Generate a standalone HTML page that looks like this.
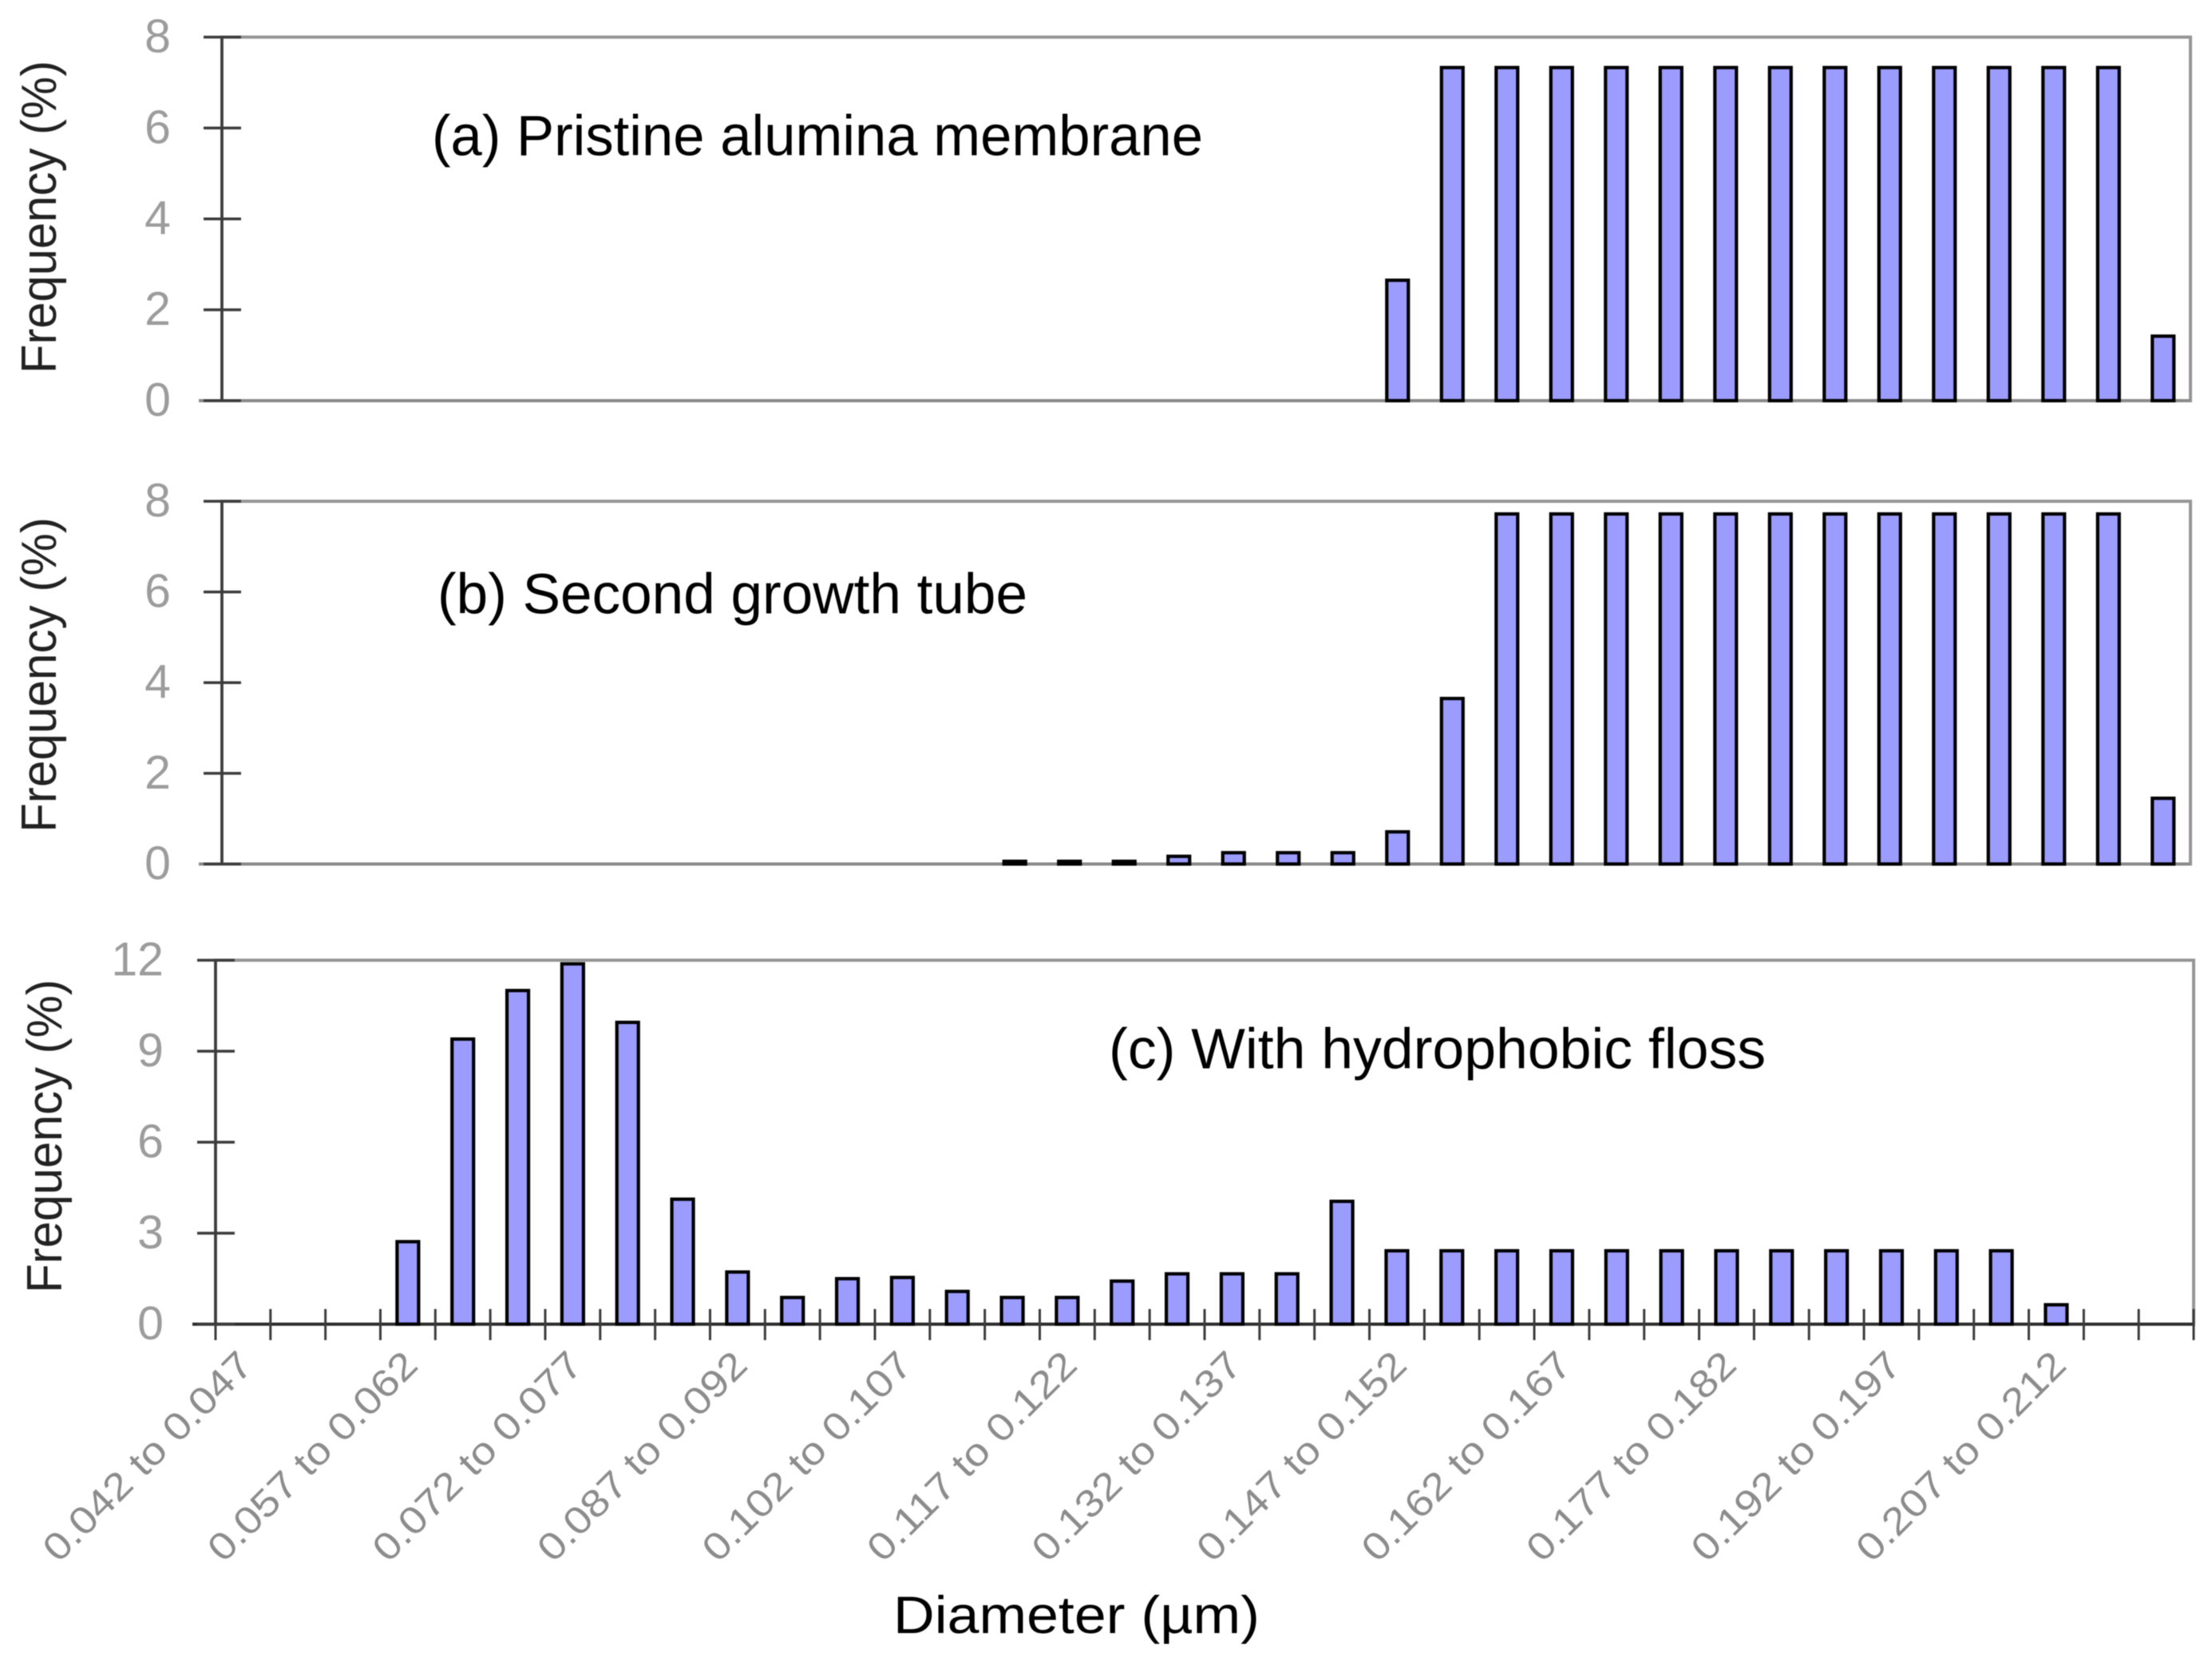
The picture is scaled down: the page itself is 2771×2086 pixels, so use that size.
<!DOCTYPE html>
<html lang="en">
<head>
<meta charset="utf-8">
<title>Pore diameter frequency distributions</title>
<style>
html,body{margin:0;padding:0;background:#fff;}
svg{display:block;font-family:"Liberation Sans",sans-serif;filter:blur(0.6px);}
</style>
</head>
<body>
<svg id="chart" xmlns="http://www.w3.org/2000/svg" width="2771" height="2086" viewBox="0 0 2771 2086">
  <rect x="0" y="0" width="2771" height="2086" fill="#ffffff"/>
  <text x="541" y="194.5" font-size="71" fill="#000" textLength="966" lengthAdjust="spacingAndGlyphs">(a) Pristine alumina membrane</text>
  <text x="548" y="768.5" font-size="71" fill="#000" textLength="739" lengthAdjust="spacingAndGlyphs">(b) Second growth tube</text>
  <text x="1389" y="1338.5" font-size="71" fill="#000" textLength="823" lengthAdjust="spacingAndGlyphs">(c) With hydrophobic floss</text>
  <text x="1119" y="2046" font-size="66" fill="#000" textLength="459" lengthAdjust="spacingAndGlyphs">Diameter (µm)</text>
  <text transform="translate(70,468) rotate(-90)" font-size="62" fill="#222" textLength="392" lengthAdjust="spacingAndGlyphs">Frequency (%)</text>
  <text transform="translate(70,1043) rotate(-90)" font-size="62" fill="#222" textLength="395" lengthAdjust="spacingAndGlyphs">Frequency (%)</text>
  <text transform="translate(77,1620) rotate(-90)" font-size="62" fill="#222" textLength="393" lengthAdjust="spacingAndGlyphs">Frequency (%)</text>
</svg>
<script>
var categories = [
  "0.042 to 0.047","0.047 to 0.052","0.052 to 0.057","0.057 to 0.062","0.062 to 0.067","0.067 to 0.072",
  "0.072 to 0.077","0.077 to 0.082","0.082 to 0.087","0.087 to 0.092","0.092 to 0.097","0.097 to 0.102",
  "0.102 to 0.107","0.107 to 0.112","0.112 to 0.117","0.117 to 0.122","0.122 to 0.127","0.127 to 0.132",
  "0.132 to 0.137","0.137 to 0.142","0.142 to 0.147","0.147 to 0.152","0.152 to 0.157","0.157 to 0.162",
  "0.162 to 0.167","0.167 to 0.172","0.172 to 0.177","0.177 to 0.182","0.182 to 0.187","0.187 to 0.192",
  "0.192 to 0.197","0.197 to 0.202","0.202 to 0.207","0.207 to 0.212","0.212 to 0.217","0.217 to 0.222"
];
var valuesA = [0,0,0,0,0,0,0,0,0,0,0,0,0,0,0,0,0,0,0,0,0,2.65,7.33,7.33,7.33,7.33,7.33,7.33,7.33,7.33,7.33,7.33,7.33,7.33,7.33,1.42];
var valuesB = [0,0,0,0,0,0,0,0,0,0,0,0,0,0,0.06,0.06,0.06,0.17,0.25,0.25,0.25,0.71,3.65,7.72,7.72,7.72,7.72,7.72,7.72,7.72,7.72,7.72,7.72,7.72,7.72,1.45];
var valuesC = [0,0,0,2.72,9.4,11,11.88,9.95,4.12,1.72,0.88,1.5,1.54,1.08,0.88,0.88,1.42,1.66,1.66,1.66,4.05,2.42,2.42,2.42,2.42,2.42,2.42,2.42,2.42,2.42,2.42,2.42,2.42,0.64,0,0];
var ticksAB = [0,2,4,6,8];
var ticksC = [0,3,6,9,12];
var labelEvery = 3;

var NS = "http://www.w3.org/2000/svg";
var svg = document.getElementById("chart");

function make(tag, attrs) {
  var el = document.createElementNS(NS, tag);
  for (var k in attrs) el.setAttribute(k, attrs[k]);
  svg.appendChild(el);
  return el;
}

function drawPanel(id, values, ticks, frame) {
  var yMax = ticks[ticks.length - 1];
  var step = (frame.right - frame.left) / categories.length;
  function xScale(i) { return frame.left + (i + 0.5) * step; }
  function yScale(v) { return frame.bottom - (v / yMax) * (frame.bottom - frame.top); }

  var border = make("rect", {x: frame.left, y: frame.top, width: frame.right - frame.left, height: frame.bottom - frame.top, fill: "none", stroke: "#969696", "stroke-width": 4});
  
  

  var baseline = make("line", {x1: frame.left - 29, x2: frame.right, y1: frame.bottom, y2: frame.bottom, stroke: frame.baseColor, "stroke-width": 4});
  
  

  var yAxis = make("line", {x1: frame.left, x2: frame.left, y1: frame.top, y2: frame.bottom, stroke: "#3c3c3c", "stroke-width": 3.5});
  
  

  ticks.forEach(function (t) {
    var y = yScale(t);
    var tick = make("line", {x1: frame.left - 23, x2: frame.left + 24, y1: y, y2: y, stroke: "#3c3c3c", "stroke-width": 3.5});
    
    
    var label = make("text", {x: frame.labelX, y: y + 19, "text-anchor": "end", "font-size": 59, fill: "#9c9c9c"});
    label.textContent = String(t);
    
    
  });

  if (frame.xTicks) {
    for (var i = 0; i <= categories.length; i++) {
      var tx = frame.left + i * step;
      var xt = make("line", {x1: tx, x2: tx, y1: frame.bottom - 19, y2: frame.bottom + 20, stroke: "#3c3c3c", "stroke-width": 3});
      
      
    }
  }

  values.forEach(function (v, i) {
    if (v <= 0) return;
    var top = yScale(v);
    var bar = make("rect", {x: xScale(i) - 13.5, y: top, width: 27, height: frame.bottom - top, fill: "#9c9cff", stroke: "#000000", "stroke-width": 4.2});
    
    
  });

  if (frame.xTicks) {
    categories.forEach(function (c, i) {
      if (i % labelEvery !== 0 || i > 33) return;
      var ex = xScale(i) + 15;
      var ey = 1713;
      var lab = make("text", {transform: "translate(" + ex + "," + ey + ") rotate(-45)", "text-anchor": "end", "font-size": 48, fill: "#8c8c8c", textLength: 348, lengthAdjust: "spacingAndGlyphs"});
      lab.textContent = c;
      
      
    });
  }
}

drawPanel("a", valuesA, ticksAB, {left: 278, right: 2744, top: 46.5, bottom: 502, labelX: 214, baseColor: "#8a8a8a", xTicks: false});
drawPanel("b", valuesB, ticksAB, {left: 278, right: 2744, top: 628, bottom: 1082.5, labelX: 214, baseColor: "#8a8a8a", xTicks: false});
drawPanel("c", valuesC, ticksC, {left: 270, right: 2748, top: 1203, bottom: 1659, labelX: 205, baseColor: "#2e2e2e", xTicks: true});
</script>
</body>
</html>
